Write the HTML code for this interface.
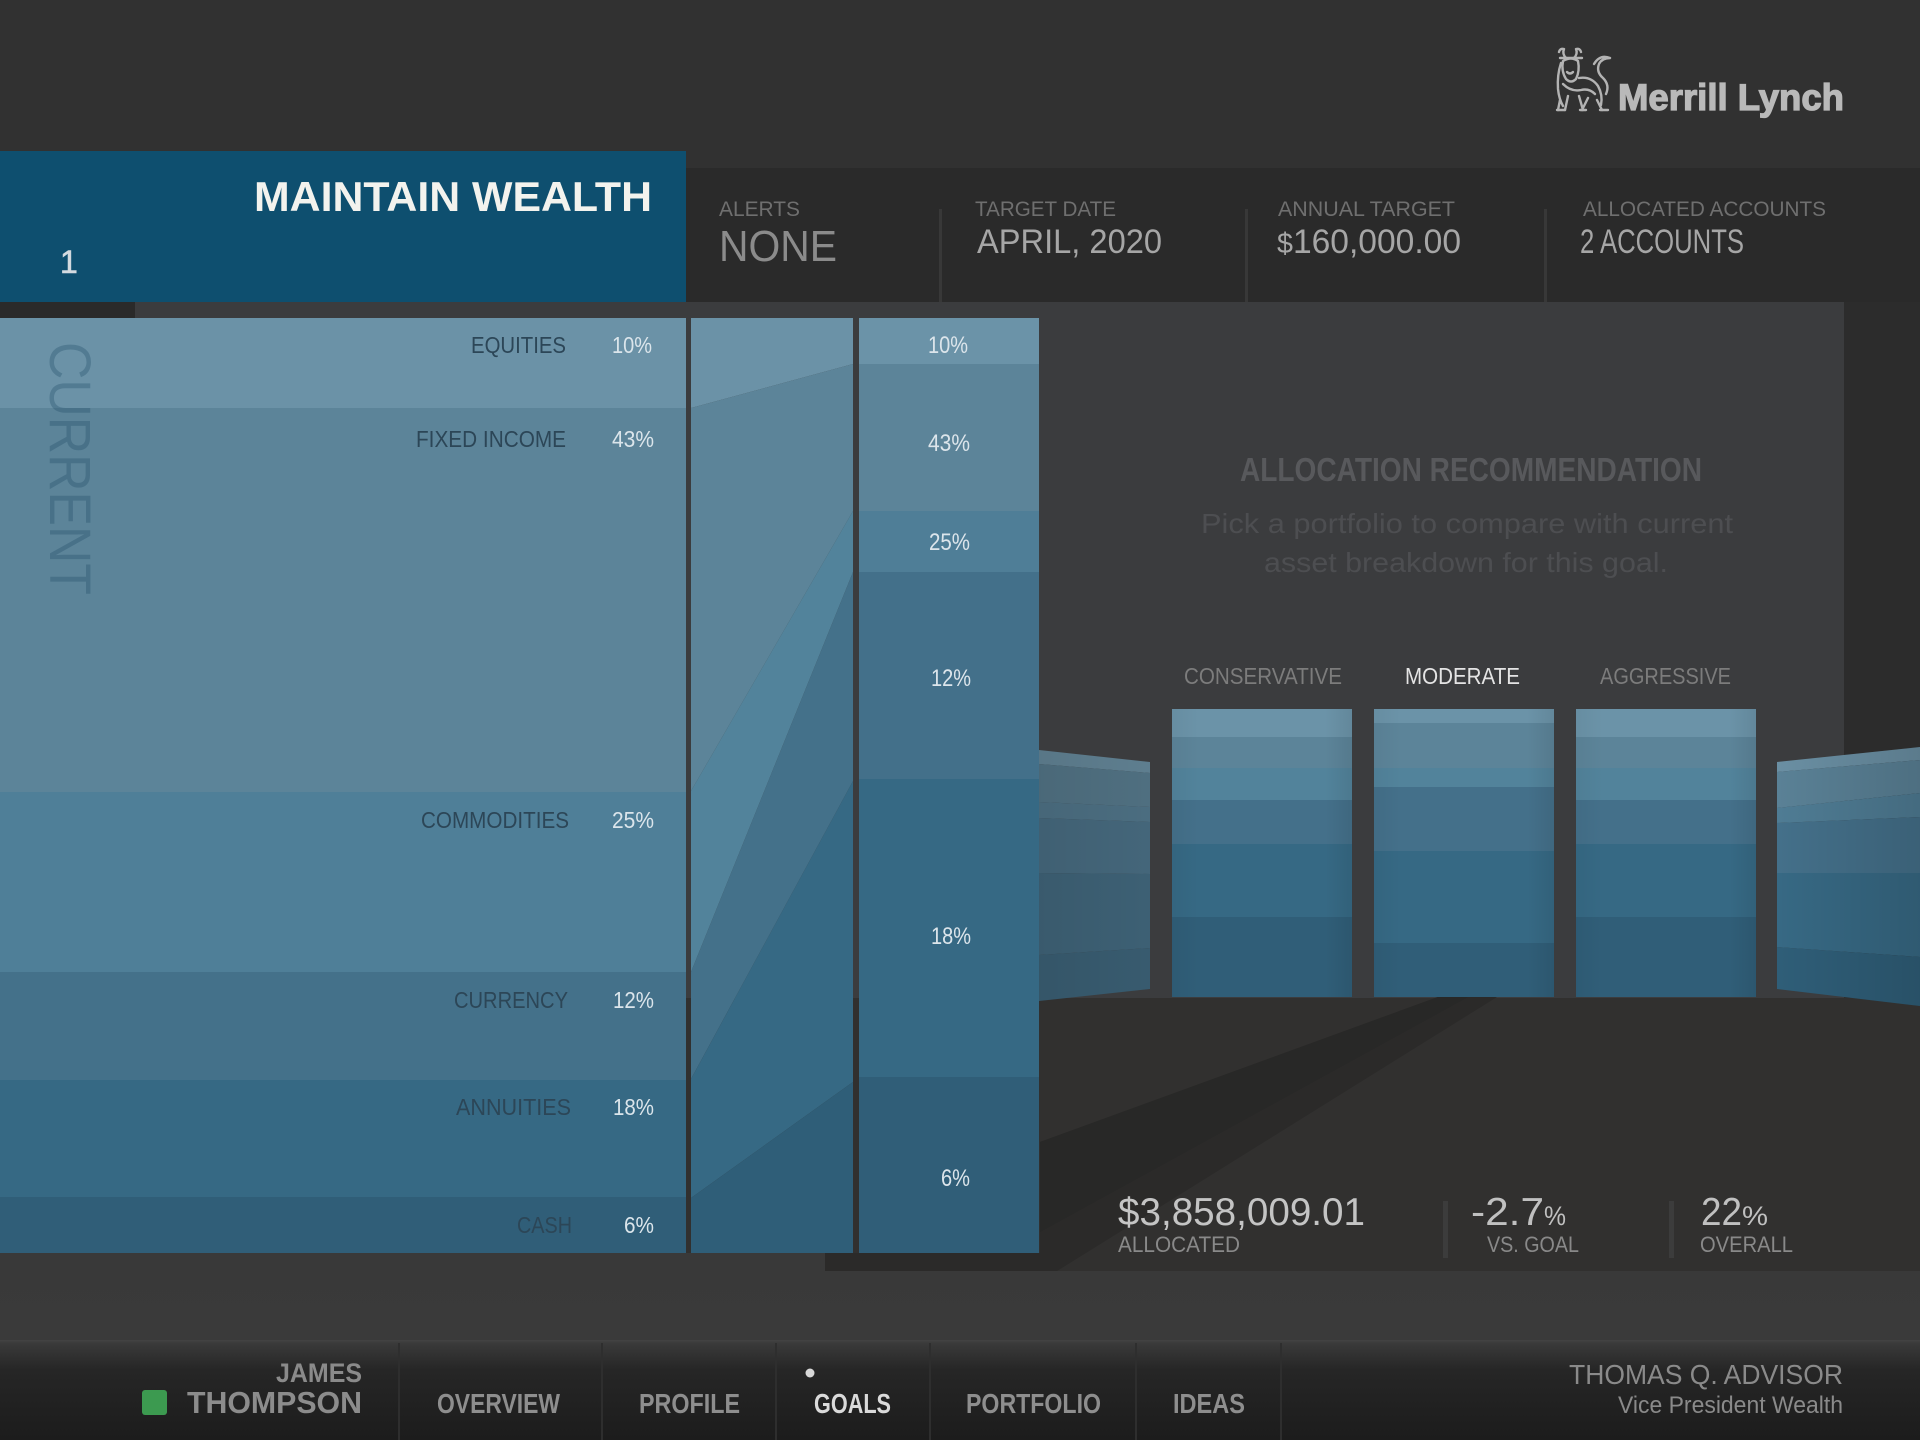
<!DOCTYPE html>
<html>
<head>
<meta charset="utf-8">
<style>
  html, body { margin: 0; padding: 0; background: #313131; }
  body { width: 1920px; height: 1440px; overflow: hidden; }
  svg { display: block; }
  text { font-family: "Liberation Sans", Arial, sans-serif; }
</style>
</head>
<body>
<svg width="1920" height="1440" viewBox="0 0 1920 1440" xmlns="http://www.w3.org/2000/svg">
  <defs>
    <linearGradient id="nav" x1="0" y1="0" x2="0" y2="1">
      <stop offset="0" stop-color="#444444"/>
      <stop offset="0.03" stop-color="#3a3a3a"/>
      <stop offset="0.3" stop-color="#262626"/>
      <stop offset="1" stop-color="#1c1c1c"/>
    </linearGradient>
    <linearGradient id="mid" x1="0" y1="0" x2="0" y2="1">
      <stop offset="0" stop-color="#353535"/>
      <stop offset="1" stop-color="#3a3a3a"/>
    </linearGradient>
    <linearGradient id="barShade" x1="0" y1="0" x2="1" y2="0">
      <stop offset="0" stop-color="#000" stop-opacity="0.04"/>
      <stop offset="0.15" stop-color="#000" stop-opacity="0"/>
      <stop offset="0.85" stop-color="#000" stop-opacity="0"/>
      <stop offset="1" stop-color="#000" stop-opacity="0.08"/>
    </linearGradient>
    <linearGradient id="lpShade" x1="0" y1="0" x2="1" y2="0">
      <stop offset="0" stop-color="#000" stop-opacity="0.06"/>
      <stop offset="1" stop-color="#000" stop-opacity="0"/>
    </linearGradient>
    <linearGradient id="rpShade" x1="0" y1="0" x2="1" y2="0">
      <stop offset="0" stop-color="#000" stop-opacity="0"/>
      <stop offset="1" stop-color="#000" stop-opacity="0.14"/>
    </linearGradient>
  </defs>

  <!-- base background -->
  <rect x="0" y="0" width="1920" height="1440" fill="#313131"/>

  <!-- info bar -->
  <rect x="686" y="168" width="1234" height="134" fill="#2a2a2a"/>
  <rect x="939" y="209" width="3" height="93" fill="#383838"/>
  <rect x="1245" y="209" width="3" height="93" fill="#383838"/>
  <rect x="1544" y="209" width="3" height="93" fill="#383838"/>

  <!-- blue header -->
  <rect x="0" y="151" width="686" height="152" fill="#0e4f6f"/>

  <!-- grey panel area -->
  <rect x="0" y="302" width="1844" height="696" fill="#3b3c3e"/>
  <rect x="0" y="302" width="135" height="16" fill="#2a2a2a"/>
  <rect x="1844" y="302" width="76" height="696" fill="#2c2c2c"/>

  <!-- lower area -->
  <rect x="0" y="998" width="1920" height="342" fill="url(#mid)"/>
  <!-- floor -->
  <rect x="686" y="998" width="1234" height="255" fill="#31302f"/>
  <rect x="825" y="1253" width="1095" height="18" fill="#31302f"/>
  <!-- floor beam shadow -->
  <polygon points="1438,997 1497,997 1057,1271 825,1271 825,1253 1040,1253 1040,1142" fill="#2b2a29"/>
  <polygon points="1438,997 1468,997 1040,1232 1040,1142" fill="#282827"/>

  <!-- LEFT CURRENT CHART -->
  <rect x="0" y="318" width="686" height="90" fill="#6b92a7"/>
  <rect x="0" y="408" width="686" height="384" fill="#5c8499"/>
  <rect x="0" y="792" width="686" height="180" fill="#4f7f98"/>
  <rect x="0" y="972" width="686" height="108" fill="#44718a"/>
  <rect x="0" y="1080" width="686" height="117" fill="#366984"/>
  <rect x="0" y="1197" width="686" height="56" fill="#305e78"/>

  <text transform="translate(50,342) rotate(90)" font-size="58" fill="#1e4a66" fill-opacity="0.32" textLength="253" lengthAdjust="spacingAndGlyphs">CURRENT</text>

  <g font-size="23" fill="#2c4657">
    <text x="471" y="353" textLength="95" lengthAdjust="spacingAndGlyphs">EQUITIES</text>
    <text x="416" y="447" textLength="150" lengthAdjust="spacingAndGlyphs">FIXED INCOME</text>
    <text x="421" y="828" textLength="148" lengthAdjust="spacingAndGlyphs">COMMODITIES</text>
    <text x="454" y="1008" textLength="114" lengthAdjust="spacingAndGlyphs">CURRENCY</text>
    <text x="456" y="1115" textLength="115" lengthAdjust="spacingAndGlyphs">ANNUITIES</text>
    <text x="517" y="1233" textLength="55" lengthAdjust="spacingAndGlyphs">CASH</text>
  </g>
  <g font-size="23" fill="#dbe5eb">
    <text x="612" y="353" textLength="40" lengthAdjust="spacingAndGlyphs">10%</text>
    <text x="612" y="447" textLength="42" lengthAdjust="spacingAndGlyphs">43%</text>
    <text x="612" y="828" textLength="42" lengthAdjust="spacingAndGlyphs">25%</text>
    <text x="613" y="1008" textLength="41" lengthAdjust="spacingAndGlyphs">12%</text>
    <text x="613" y="1115" textLength="41" lengthAdjust="spacingAndGlyphs">18%</text>
    <text x="624" y="1233" textLength="30" lengthAdjust="spacingAndGlyphs">6%</text>
  </g>

  <!-- CONNECTOR -->
  <polygon points="691,318 853,318 853,364 691,408" fill="#6b92a7"/>
  <polygon points="691,408 853,364 853,511 691,791" fill="#5c8499"/>
  <polygon points="691,791 853,511 853,572 691,972" fill="#52839b"/>
  <polygon points="691,972 853,572 853,781 691,1079" fill="#44718a"/>
  <polygon points="691,1079 853,781 853,1082 691,1198" fill="#366984"/>
  <polygon points="691,1198 853,1082 853,1253 691,1253" fill="#2f5e78"/>

  <!-- RIGHT (TARGET) COLUMN -->
  <rect x="859" y="318" width="180" height="46" fill="#6b93a8"/>
  <rect x="859" y="364" width="180" height="147" fill="#5c8499"/>
  <rect x="859" y="511" width="180" height="61" fill="#4f7e97"/>
  <rect x="859" y="572" width="180" height="207" fill="#43708a"/>
  <rect x="859" y="779" width="180" height="298" fill="#366984"/>
  <rect x="859" y="1077" width="180" height="176" fill="#305e78"/>
  <g font-size="24" fill="#dce5eb">
    <text x="928" y="353" textLength="40" lengthAdjust="spacingAndGlyphs">10%</text>
    <text x="928" y="451" textLength="42" lengthAdjust="spacingAndGlyphs">43%</text>
    <text x="929" y="550" textLength="41" lengthAdjust="spacingAndGlyphs">25%</text>
    <text x="931" y="686" textLength="40" lengthAdjust="spacingAndGlyphs">12%</text>
    <text x="931" y="944" textLength="40" lengthAdjust="spacingAndGlyphs">18%</text>
    <text x="941" y="1186" textLength="29" lengthAdjust="spacingAndGlyphs">6%</text>
  </g>

  <!-- ALLOCATION RECOMMENDATION text -->
  <text x="1240" y="481" font-size="33" font-weight="bold" fill="#58595c" textLength="462" lengthAdjust="spacingAndGlyphs">ALLOCATION RECOMMENDATION</text>
  <text x="1201" y="533" font-size="28" fill="#4d4e51" textLength="532" lengthAdjust="spacingAndGlyphs">Pick a portfolio to compare with current</text>
  <text x="1264" y="572" font-size="28" fill="#4d4e51" textLength="404" lengthAdjust="spacingAndGlyphs">asset breakdown for this goal.</text>

  <!-- bar labels -->
  <g font-size="23">
    <text x="1184" y="684" fill="#7c7c7c" textLength="158" lengthAdjust="spacingAndGlyphs">CONSERVATIVE</text>
    <text x="1405" y="684" fill="#e4e4e4" textLength="115" lengthAdjust="spacingAndGlyphs">MODERATE</text>
    <text x="1600" y="684" fill="#7c7c7c" textLength="131" lengthAdjust="spacingAndGlyphs">AGGRESSIVE</text>
  </g>

  <!-- left perspective panel -->
  <polygon points="1039,750 1150,762 1150,773 1039,764" fill="#5e7e8f"/>
  <polygon points="1039,764 1150,773 1150,807 1039,802" fill="#4f6f80"/>
  <polygon points="1039,802 1150,807 1150,822 1039,818" fill="#4b6d80"/>
  <polygon points="1039,818 1150,822 1150,874 1039,873" fill="#44667a"/>
  <polygon points="1039,873 1150,874 1150,948 1039,955" fill="#3d6074"/>
  <polygon points="1039,955 1150,948 1150,989 1039,1001" fill="#385b6f"/>
  <polygon points="1039,750 1150,762 1150,989 1039,1001" fill="url(#lpShade)"/>

  <!-- right perspective panel -->
  <polygon points="1777,762 1920,747 1920,760 1777,772" fill="#6a8fa3"/>
  <polygon points="1777,772 1920,760 1920,793 1777,808" fill="#5a8196"/>
  <polygon points="1777,808 1920,793 1920,817 1777,823" fill="#4f7c94"/>
  <polygon points="1777,823 1920,817 1920,873 1777,873" fill="#44708a"/>
  <polygon points="1777,873 1920,873 1920,957 1777,947" fill="#376984"/>
  <polygon points="1777,947 1920,957 1920,1006 1777,989" fill="#2f5e78"/>
  <polygon points="1777,762 1920,747 1920,1006 1777,989" fill="url(#rpShade)"/>

  <!-- Conservative bar -->
  <g>
    <rect x="1172" y="709" width="180" height="28" fill="#6b93a8"/>
    <rect x="1172" y="737" width="180" height="31" fill="#5c8499"/>
    <rect x="1172" y="768" width="180" height="32" fill="#52839b"/>
    <rect x="1172" y="800" width="180" height="44" fill="#44708a"/>
    <rect x="1172" y="844" width="180" height="73" fill="#366984"/>
    <rect x="1172" y="917" width="180" height="80" fill="#305e78"/>
    <rect x="1172" y="709" width="180" height="288" fill="url(#barShade)"/>
  </g>
  <!-- Moderate bar -->
  <g>
    <rect x="1374" y="709" width="180" height="14" fill="#6b93a8"/>
    <rect x="1374" y="723" width="180" height="45" fill="#5c8499"/>
    <rect x="1374" y="768" width="180" height="19" fill="#52839b"/>
    <rect x="1374" y="787" width="180" height="64" fill="#44708a"/>
    <rect x="1374" y="851" width="180" height="92" fill="#366984"/>
    <rect x="1374" y="943" width="180" height="54" fill="#305e78"/>
    <rect x="1374" y="709" width="180" height="288" fill="url(#barShade)"/>
  </g>
  <!-- Aggressive bar -->
  <g>
    <rect x="1576" y="709" width="180" height="28" fill="#6b93a8"/>
    <rect x="1576" y="737" width="180" height="31" fill="#5c8499"/>
    <rect x="1576" y="768" width="180" height="32" fill="#52839b"/>
    <rect x="1576" y="800" width="180" height="44" fill="#44708a"/>
    <rect x="1576" y="844" width="180" height="73" fill="#366984"/>
    <rect x="1576" y="917" width="180" height="80" fill="#305e78"/>
    <rect x="1576" y="709" width="180" height="288" fill="url(#barShade)"/>
  </g>

  <!-- stats -->
  <text x="1118" y="1225" font-size="39" fill="#c4c4c4" textLength="247" lengthAdjust="spacingAndGlyphs">$3,858,009.01</text>
  <text x="1118" y="1252" font-size="22" fill="#898989" textLength="122" lengthAdjust="spacingAndGlyphs">ALLOCATED</text>
  <rect x="1443" y="1201" width="5" height="57" fill="#3c3c3c"/>
  <text x="1471" y="1225" font-size="39" fill="#c0c0c0" textLength="73" lengthAdjust="spacingAndGlyphs">-2.7</text>
  <text x="1544" y="1225" font-size="27" fill="#c0c0c0" textLength="22" lengthAdjust="spacingAndGlyphs">%</text>
  <text x="1487" y="1252" font-size="22" fill="#898989" textLength="92" lengthAdjust="spacingAndGlyphs">VS. GOAL</text>
  <rect x="1669" y="1201" width="5" height="57" fill="#3c3c3c"/>
  <text x="1701" y="1225" font-size="39" fill="#c0c0c0" textLength="41" lengthAdjust="spacingAndGlyphs">22</text>
  <text x="1742" y="1225" font-size="27" fill="#c0c0c0" textLength="26" lengthAdjust="spacingAndGlyphs">%</text>
  <text x="1700" y="1252" font-size="22" fill="#898989" textLength="93" lengthAdjust="spacingAndGlyphs">OVERALL</text>

  <!-- header texts -->
  <text x="254" y="211" font-size="42" font-weight="bold" fill="#f3f3ee" textLength="398" lengthAdjust="spacingAndGlyphs">MAINTAIN WEALTH</text>
  <text x="60" y="273" font-size="32" fill="#d4dbe0" stroke="#d4dbe0" stroke-width="0.6">1</text>

  <g font-size="21" fill="#6f6f6f">
    <text x="719" y="216" textLength="81" lengthAdjust="spacingAndGlyphs">ALERTS</text>
    <text x="975" y="216" textLength="141" lengthAdjust="spacingAndGlyphs">TARGET DATE</text>
    <text x="1278" y="216" textLength="177" lengthAdjust="spacingAndGlyphs">ANNUAL TARGET</text>
    <text x="1583" y="216" textLength="243" lengthAdjust="spacingAndGlyphs">ALLOCATED ACCOUNTS</text>
  </g>
  <text x="719" y="261" font-size="44" fill="#8b8b8b" textLength="118" lengthAdjust="spacingAndGlyphs">NONE</text>
  <g font-size="34" fill="#a6a6a6">
    <text x="977" y="253" textLength="185" lengthAdjust="spacingAndGlyphs">APRIL, 2020</text>
    <text x="1277" y="253" textLength="184" lengthAdjust="spacingAndGlyphs"><tspan font-size="29">$</tspan>160,000.00</text>
    <text x="1580" y="253" textLength="164" lengthAdjust="spacingAndGlyphs">2 ACCOUNTS</text>
  </g>

  <!-- logo bull -->
  <g fill="none" stroke="#b3b3b3" stroke-width="2.4" stroke-linejoin="round" stroke-linecap="round">
    <path d="M1559,52 q1,-4 5,-3 q-2,5 2,9 M1581,52 q-1,-4 -5,-3 q2,5 -2,9"/>
    <path d="M1560,58 h22"/>
    <path d="M1563,61 q8,-5 15,0 q2,10 -2,18 q-5,5 -10,0 q-5,-8 -3,-18 z"/>
    <path d="M1567,72 q3,3 6,0"/>
    <path d="M1561,63 q-4,12 -3,26 q1,10 5,17 M1579,78 q12,-2 19,8 q5,9 3,19"/>
    <path d="M1563,84 q8,8 18,6 q8,-2 14,4"/>
    <path d="M1560,100 l-2,10 M1568,96 l-3,14 M1579,96 l4,14 M1588,98 l-6,12 M1597,100 l5,10"/>
    <path d="M1557,110 h8 M1580,110 h6 M1600,110 h8"/>
    <path d="M1594,64 q6,-10 16,-6 q-8,0 -11,6 q-3,8 4,14 q7,7 3,16"/>
  </g>
  <text x="1618" y="110" font-family="Liberation Serif, serif" font-size="37" font-weight="bold" fill="#b9b9b9" stroke="#b9b9b9" stroke-width="1.3" textLength="226" lengthAdjust="spacingAndGlyphs">Merrill Lynch</text>

  <!-- NAV -->
  <rect x="0" y="1340" width="1920" height="100" fill="url(#nav)"/>
  <g fill="#2e2e2e">
    <rect x="398" y="1343" width="2" height="97"/>
    <rect x="601" y="1343" width="2" height="97"/>
    <rect x="775" y="1343" width="2" height="97"/>
    <rect x="929" y="1343" width="2" height="97"/>
    <rect x="1135" y="1343" width="2" height="97"/>
    <rect x="1280" y="1343" width="2" height="97"/>
  </g>
  <text x="276" y="1382" font-size="27" font-weight="bold" fill="#8a8a8a" textLength="86" lengthAdjust="spacingAndGlyphs">JAMES</text>
  <text x="187" y="1413" font-size="31" font-weight="bold" fill="#8c8c8c" textLength="175" lengthAdjust="spacingAndGlyphs">THOMPSON</text>
  <rect x="142" y="1390" width="25" height="25" rx="3" fill="#3c9a50"/>
  <g font-size="28" font-weight="bold" fill="#8e8e8e">
    <text x="437" y="1413" textLength="123" lengthAdjust="spacingAndGlyphs">OVERVIEW</text>
    <text x="639" y="1413" textLength="101" lengthAdjust="spacingAndGlyphs">PROFILE</text>
    <text x="814" y="1413" fill="#dadada" textLength="77" lengthAdjust="spacingAndGlyphs">GOALS</text>
    <text x="966" y="1413" textLength="135" lengthAdjust="spacingAndGlyphs">PORTFOLIO</text>
    <text x="1173" y="1413" textLength="72" lengthAdjust="spacingAndGlyphs">IDEAS</text>
  </g>
  <circle cx="810" cy="1373" r="4.5" fill="#d8d8d8"/>
  <text x="1569" y="1384" font-size="28" fill="#8a8a8a" textLength="274" lengthAdjust="spacingAndGlyphs">THOMAS Q. ADVISOR</text>
  <text x="1618" y="1413" font-size="24" fill="#8a8a8a" textLength="225" lengthAdjust="spacingAndGlyphs">Vice President Wealth</text>
</svg>
</body>
</html>
